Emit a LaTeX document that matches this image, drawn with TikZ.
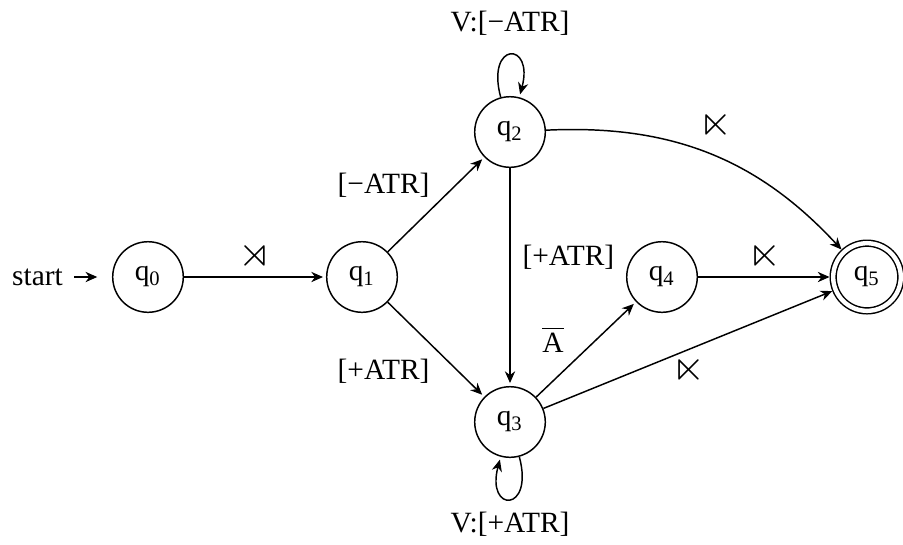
\documentclass[tikz,border=0pt]{standalone}
\usepackage{amssymb}
\usepackage{fontspec}
\setmainfont{Liberation Serif}
\usetikzlibrary{arrows.meta}
\newcommand{\bowR}{{\Large$\rtimes$}}
\newcommand{\bowL}{{\Large$\ltimes$}}
\begin{document}
\begin{tikzpicture}[x=0.34pt,y=-0.34pt,
  state/.style={draw,circle,minimum size=24pt,inner sep=0pt,line width=0.5pt},
  acc/.style={state,double,double distance=1.5pt,minimum size=23pt},
  edge/.style={-{Stealth[length=4pt,width=3.5pt]},line width=0.5pt,shorten >=1pt},
  lab/.style={inner sep=2pt}]
\useasboundingbox (0,0) rectangle (903,544);
\node[state] (q0) at (148,277) {q\textsubscript{0}};
\node[state] (q1) at (362,277) {q\textsubscript{1}};
\node[state] (q2) at (510,132) {q\textsubscript{2}};
\node[state] (q3) at (510,422) {q\textsubscript{3}};
\node[state] (q4) at (662,277) {q\textsubscript{4}};
\node[acc]   (q5) at (867,277) {q\textsubscript{5}};
\node[inner sep=0pt] (st) at (37.5,277) {start};
\draw[edge,shorten <=3.7pt,shorten >=5pt] (st) -- (q0);
\draw[edge] (q0) -- node[lab,above] {\bowR} (q1);
\draw[edge] (q1) -- node[lab,above left] {[−ATR]} (q2);
\draw[edge] (q1) -- node[lab,below left,yshift=-1pt] {[+ATR]} (q3);
\draw[edge] (q2) to[loop above] node[lab,above=4.5pt] {V:[−ATR]} (q2);
\draw[edge] (q3) to[loop below] node[lab,below=2.3pt] {V:[+ATR]} (q3);
\draw[edge] (q2) -- node[lab,right=2pt,pos=0.41] {[+ATR]} (q3);
\draw[edge] (q3) -- node[lab,above left,pos=0.4,xshift=-2pt] {$\overline{\mbox{A}}$} (q4);
\draw[edge] (q4) -- node[lab,above] {\bowL} (q5);
\draw[edge] (q3) -- node[lab,below] {\bowL} (q5);
\draw[edge] (q2) to[bend left=25] node[lab,above=3pt,xshift=2pt] {\bowL} (q5);
\end{tikzpicture}
\end{document}
